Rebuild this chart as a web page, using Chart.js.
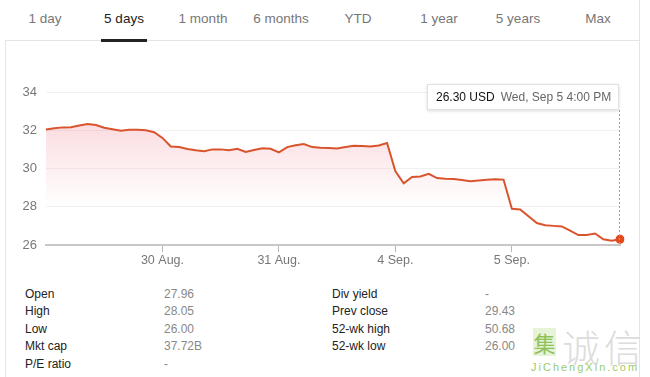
<!DOCTYPE html>
<html>
<head>
<meta charset="utf-8">
<script src="https://cdn.jsdelivr.net/npm/chart.js@4/dist/chart.umd.min.js"></script>
<style>
  body { margin: 0; background: #fff; font-family: "Liberation Sans", Arial, sans-serif; }
  #page { position: relative; width: 650px; height: 377px; overflow: hidden; }
  .tab { position: absolute; top: 11px; font-size: 13.5px; color: #777; transform: translateX(-50%); white-space: nowrap; }
  .tab.on { color: #222; }
  #underline { position: absolute; left: 101px; top: 39px; width: 46px; height: 3px; background: #222; }
  #sep { position: absolute; left: 5px; top: 40px; width: 635px; height: 1px; background: #e4e4e4; }
  #lborder { position: absolute; left: 5px; top: 40px; width: 1px; height: 337px; background: #e4e4e4; }
  #rborder { position: absolute; left: 639px; top: 0; width: 1px; height: 377px; background: #e4e4e4; }
  #chartBox { position: absolute; left: 8px; top: 60px; width: 640px; height: 215px; }
  #tip { position: absolute; left: 427px; top: 84px; width: 192px; height: 26px; background: #fff;
         border: 1px solid #e2e2e2; box-shadow: 0 1px 3px rgba(0,0,0,0.15); font-size: 12px; line-height: 24px; box-sizing: border-box; padding-left: 8px; white-space: nowrap; }
  #tip b { font-weight: normal; color: #111; margin-right: 6px; }
  #tip span { color: #666; }
  .cell { position: absolute; font-size: 12px; white-space: nowrap; }
  .lbl { color: #222; }
  .val { color: #888; }
  #wm1 { position: absolute; left: 533px; top: 328px; width: 23px; height: 28px; background: #e6f3d6; color: #8fc15a; font-size: 22px; line-height: 28px; text-align: center; font-family: "Noto Sans CJK SC", sans-serif; }
  #wm2 { position: absolute; left: 562px; top: 318px; color: #dcdcdc; font-size: 38px; letter-spacing: 4px; font-family: "Noto Sans CJK SC", sans-serif; font-weight: 300; }
  #wm3 { position: absolute; left: 531px; top: 361px; color: #9ccb6e; font-size: 11px; letter-spacing: 2px; }
</style>
</head>
<body>
<div id="page">
  <div id="rborder"></div>
  <div id="sep"></div>
  <div id="lborder"></div>
  <div id="underline"></div>
  <div id="tabs"></div>
  <div id="chartBox"><canvas id="myChart" width="640" height="215"></canvas></div>
  <div id="tip"><b>26.30 USD</b><span>Wed, Sep 5 4:00 PM</span></div>
  <div id="stats"></div>
  <div id="wm1">集</div>
  <div id="wm2">诚信</div>
  <div id="wm3">JiChengXin.com</div>
</div>
<script>
// range tabs
const tabs = ['1 day', '5 days', '1 month', '6 months', 'YTD', '1 year', '5 years', 'Max'];
const tabCenters = [45, 124, 203, 281, 358, 439, 518, 598];
const activeTab = 1;

// five trading days, half-hourly quotes 9:30 - 16:00
const days = ['29 Aug.', '30 Aug.', '31 Aug.', '4 Sep.', '5 Sep.'];
const times = ['9:30', '10:00', '10:30', '11:00', '11:30', '12:00', '12:30',
               '13:00', '13:30', '14:00', '14:30', '15:00', '15:30', '16:00'];
const aug29 = [32.04, 32.10, 32.15, 32.16, 32.25, 32.33, 32.27, 32.13, 32.05, 31.97, 32.02, 32.03, 32.00, 31.90];
const aug30 = [31.60, 31.15, 31.12, 31.02, 30.95, 30.90, 31.00, 31.00, 30.95, 31.03, 30.86, 30.97, 31.06, 31.03];
const aug31 = [30.84, 31.12, 31.22, 31.28, 31.12, 31.08, 31.07, 31.05, 31.12, 31.19, 31.17, 31.15, 31.20, 31.33];
const sep4  = [29.85, 29.23, 29.56, 29.58, 29.72, 29.50, 29.47, 29.45, 29.40, 29.33, 29.37, 29.41, 29.44, 29.42];
const sep5  = [27.89, 27.86, 27.50, 27.15, 27.03, 27.00, 26.97, 26.75, 26.52, 26.52, 26.60, 26.30, 26.22, 26.30];
const yTicks = [26, 28, 30, 32, 34];

// key stats table
const statLabelsL = ['Open', 'High', 'Low', 'Mkt cap', 'P/E ratio'];
const statValuesL = ['27.96', '28.05', '26.00', '37.72B', '-'];
const statLabelsR = ['Div yield', 'Prev close', '52-wk high', '52-wk low'];
const statValuesR = ['-', '29.43', '50.68', '26.00'];

// build tabs
const tabBox = document.getElementById('tabs');
tabs.forEach((t, i) => {
  const d = document.createElement('div');
  d.className = 'tab' + (i === activeTab ? ' on' : '');
  d.style.left = tabCenters[i] + 'px';
  d.textContent = t;
  tabBox.appendChild(d);
});

// build stats
const statBox = document.getElementById('stats');
function addCell(text, cls, x, y) {
  const d = document.createElement('div');
  d.className = 'cell ' + cls;
  d.style.left = x + 'px';
  d.style.top = y + 'px';
  d.textContent = text;
  statBox.appendChild(d);
}
statLabelsL.forEach((t, i) => {
  addCell(t, 'lbl', 25, 287 + i * 17.4);
  addCell(statValuesL[i], 'val', 164, 287 + i * 17.4);
});
statLabelsR.forEach((t, i) => {
  addCell(t, 'lbl', 332, 287 + i * 17.4);
  addCell(statValuesR[i], 'val', 485, 287 + i * 17.4);
});

const labels = [];
days.forEach(d => times.forEach(t => labels.push(d + ' ' + t)));
const prices = [].concat(aug29, aug30, aug31, sep4, sep5);
const perDay = times.length;
const last = prices.length - 1;

// dotted hover line down from the tooltip box
const hoverLine = {
  id: 'hoverLine',
  afterDatasetsDraw(chart) {
    const pt = chart.getDatasetMeta(0).data[last];
    const c = chart.ctx;
    c.save();
    c.strokeStyle = '#a0a0a0';
    c.lineWidth = 1;
    c.setLineDash([2, 2]);
    c.beginPath();
    c.moveTo(Math.round(pt.x) - 0.5, chart.chartArea.top + 18);
    c.lineTo(Math.round(pt.x) - 0.5, chart.chartArea.bottom);
    c.stroke();
    c.restore();
  }
};

const ctx = document.getElementById('myChart').getContext('2d');
const myChart = new Chart(ctx, {
  type: 'line',
  data: {
    labels: labels,
    datasets: [{
      data: prices,
      borderColor: '#d9542c',
      borderWidth: 2,
      tension: 0,
      fill: 'start',
      backgroundColor: (c) => {
        const a = c.chart.chartArea;
        if (!a) return 'transparent';
        const g = c.chart.ctx.createLinearGradient(0, a.top, 0, a.bottom);
        g.addColorStop(0, 'rgba(232,70,90,0.26)');
        g.addColorStop(0.75, 'rgba(232,70,90,0)');
        return g;
      },
      pointRadius: (c) => c.dataIndex === last ? 4.5 : 0,
      pointBackgroundColor: '#e24a1e',
      pointBorderWidth: 0
    }]
  },
  options: {
    responsive: false,
    animation: false,
    layout: { padding: { top: 32, right: 28 } },
    plugins: { legend: { display: false }, tooltip: { enabled: false } },
    scales: {
      x: {
        afterFit: (axis) => { axis.height = 30; },
        grid: {
          drawOnChartArea: false,
          tickLength: 7,
          tickColor: (c) => (c.index > 0 && c.index % perDay === 0) ? '#b8b8b8' : 'transparent'
        },
        border: { color: '#c8c8c8', width: 2 },
        ticks: {
          autoSkip: false,
          maxRotation: 0,
          padding: 1,
          color: '#777',
          font: { family: '"Liberation Sans", Arial, sans-serif', size: 12.5 },
          callback: (v, i) => (i > 0 && i % perDay === 0) ? days[i / perDay] : ''
        }
      },
      y: {
        min: yTicks[0],
        max: yTicks[yTicks.length - 1],
        afterFit: (axis) => { axis.width = 38; },
        afterBuildTicks: (axis) => { axis.ticks = yTicks.map(v => ({ value: v })); },
        grid: { color: '#f1f1f1', drawTicks: false },
        border: { display: false },
        ticks: {
          padding: 9,
          color: '#777',
          font: { family: '"Liberation Sans", Arial, sans-serif', size: 13 }
        }
      }
    }
  },
  plugins: [hoverLine]
});
</script>
</body>
</html>
